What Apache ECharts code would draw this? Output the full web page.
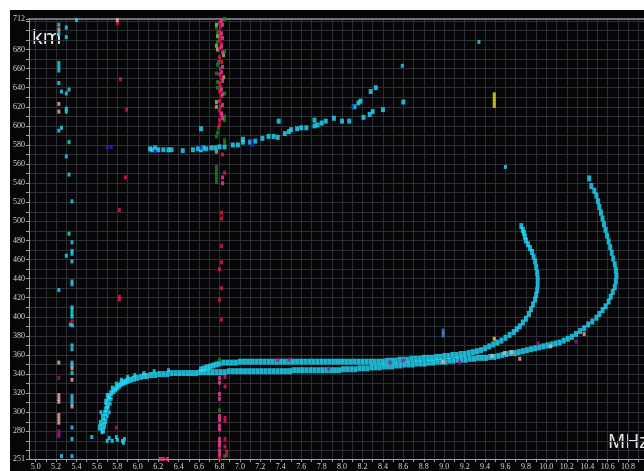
<!DOCTYPE html>
<html>
<head>
<meta charset="utf-8">
<script src="https://cdn.jsdelivr.net/npm/echarts@6/dist/echarts.min.js"></script>
<style>
  html, body { margin: 0; padding: 0; background: #fff; }
  #chartBox { position: absolute; left: 10px; top: 10px; width: 634px; height: 461px; background: #060608; }
</style>
</head>
<body>
<div id="chartBox"></div>
<script>
// axis labels
const xLabels = [5.0, 5.2, 5.4, 5.6, 5.8, 6.0, 6.2, 6.4, 6.6, 6.8, 7.0, 7.2, 7.4, 7.6, 7.8, 8.0, 8.2, 8.4, 8.6, 8.8, 9.0, 9.2, 9.4, 9.6, 9.8, 10.0, 10.2, 10.4, 10.6, 10.8];
const yLabels = [251, 280, 300, 320, 340, 360, 380, 400, 420, 440, 460, 480, 500, 520, 540, 560, 580, 600, 620, 640, 660, 680, 712];

// [frequency MHz, virtual height km]
const traceLower = [
  [5.63, 284], [5.64, 289], [5.66, 281], [5.67, 286], [5.68, 291], [5.66, 295], [5.68, 299], [5.69, 303], [5.70, 307],
  [5.69, 311], [5.71, 314], [5.72, 317], [5.74, 320], [5.76, 322], [5.78, 324], [5.80, 326], [5.82, 328], [5.84, 330],
  [5.86, 331], [5.88, 332], [5.90, 333], [5.93, 334], [5.96, 335], [5.99, 336], [6.03, 337], [6.06, 338], [6.09, 338],
  [6.13, 339], [6.17, 339], [6.21, 340], [6.25, 340], [6.29, 340], [6.33, 341], [6.37, 341], [6.41, 341], [6.45, 341],
  [6.49, 341], [6.53, 341], [6.57, 341], [6.61, 342], [6.65, 342], [6.69, 342], [6.73, 342], [6.77, 342], [6.81, 342],
  [6.85, 342], [6.89, 343], [6.93, 343], [6.97, 343], [7.01, 343], [7.05, 343], [7.09, 343], [7.13, 343], [7.17, 343],
  [7.21, 343], [7.25, 343], [7.29, 343], [7.33, 343], [7.37, 343], [7.41, 343], [7.45, 343], [7.49, 343], [7.53, 344],
  [7.57, 344], [7.61, 344], [7.65, 344], [7.69, 344], [7.73, 344], [7.77, 344], [7.81, 344], [7.85, 344], [7.89, 344],
  [7.93, 344], [7.97, 344], [8.01, 345], [8.05, 345], [8.09, 345], [8.13, 345], [8.17, 346], [8.21, 346], [8.25, 346],
  [8.29, 347], [8.33, 347], [8.37, 347], [8.41, 348], [8.45, 348], [8.49, 348], [8.53, 349], [8.57, 349], [8.61, 350],
  [8.65, 350], [8.69, 350], [8.73, 351], [8.77, 351], [8.81, 351], [8.85, 352], [8.89, 352], [8.93, 353], [8.97, 353],
  [9.01, 353], [9.05, 354], [9.09, 354], [9.13, 355], [9.17, 355], [9.21, 355], [9.25, 356], [9.29, 356], [9.33, 357],
  [9.37, 357], [9.41, 357], [9.45, 358], [9.49, 358], [9.53, 359], [9.57, 360], [9.61, 361], [9.65, 362], [9.69, 362],
  [9.73, 363], [9.77, 364], [9.81, 365], [9.85, 366], [9.89, 367], [9.93, 368], [9.97, 369], [10.01, 370], [10.05, 371],
  [10.09, 372], [10.13, 373], [10.17, 375], [10.21, 377], [10.25, 379], [10.29, 382], [10.33, 385], [10.37, 388],
  [10.41, 392], [10.45, 395], [10.49, 399], [10.52, 403], [10.55, 407], [10.58, 411], [10.61, 416], [10.63, 421],
  [10.65, 426], [10.67, 431], [10.68, 437], [10.685, 443], [10.68, 449], [10.67, 455], [10.655, 461], [10.64, 467],
  [10.625, 473], [10.61, 479], [10.595, 485], [10.58, 491], [10.565, 497], [10.55, 503], [10.535, 509], [10.52, 515],
  [10.505, 521], [10.49, 527], [10.47, 532], [10.44, 537], [10.42, 545]
];
const traceUpper = [
  [6.62, 345], [6.65, 346], [6.68, 347], [6.71, 348], [6.74, 349], [6.77, 350], [6.80, 351], [6.84, 352], [6.88, 352],
  [6.92, 352], [6.96, 352], [7.00, 353], [7.04, 353], [7.08, 353], [7.12, 353], [7.16, 353], [7.20, 353], [7.24, 353],
  [7.28, 353], [7.32, 353], [7.36, 353], [7.40, 353], [7.44, 353], [7.48, 353], [7.52, 353], [7.56, 353], [7.60, 353],
  [7.64, 353], [7.68, 353], [7.72, 353], [7.76, 353], [7.80, 353], [7.84, 353], [7.88, 353], [7.92, 353], [7.96, 353],
  [8.00, 353], [8.04, 353], [8.08, 353], [8.12, 353], [8.16, 353], [8.20, 353], [8.24, 353], [8.28, 353], [8.32, 353],
  [8.36, 353], [8.40, 353], [8.44, 354], [8.48, 354], [8.52, 354], [8.56, 355], [8.60, 355], [8.64, 355], [8.68, 356],
  [8.72, 356], [8.76, 356], [8.80, 357], [8.84, 357], [8.88, 357], [8.92, 358], [8.96, 358], [9.00, 359], [9.04, 359],
  [9.08, 360], [9.12, 360], [9.16, 361], [9.20, 361], [9.24, 362], [9.28, 363], [9.32, 364], [9.36, 365], [9.40, 367],
  [9.44, 369], [9.48, 371], [9.52, 373], [9.56, 375], [9.60, 378], [9.64, 381], [9.68, 384], [9.71, 387], [9.74, 390],
  [9.77, 394], [9.80, 398], [9.83, 403], [9.85, 408], [9.87, 413], [9.89, 418], [9.90, 423], [9.91, 428], [9.915, 434],
  [9.915, 440], [9.91, 446], [9.90, 452], [9.89, 458], [9.875, 463], [9.86, 468], [9.84, 472], [9.82, 476], [9.80, 480],
  [9.79, 484], [9.78, 488], [9.77, 491], [9.755, 495]
];
const traceEs = [
  [6.12, 576], [6.14, 575], [6.17, 577], [6.20, 575], [6.25, 575], [6.30, 575], [6.33, 575], [6.44, 574], [6.54, 575],
  [6.59, 576], [6.62, 575], [6.64, 577], [6.67, 576], [6.72, 577], [6.76, 577], [6.80, 578], [6.85, 578], [6.93, 580],
  [6.98, 580], [7.03, 583], [7.03, 586], [7.10, 583], [7.15, 584], [7.22, 587], [7.28, 589], [7.33, 589], [7.37, 588],
  [7.44, 592], [7.48, 594], [7.50, 596], [7.56, 597], [7.60, 598], [7.65, 598], [7.73, 600], [7.73, 606], [7.76, 601],
  [7.80, 603], [7.84, 605], [7.92, 608], [8.00, 605], [8.07, 605], [8.21, 609], [8.27, 612], [8.30, 615], [8.40, 617],
  [8.12, 620], [8.16, 624], [8.18, 626], [8.28, 636], [8.33, 640], [8.60, 625], [6.62, 597], [7.38, 605]
];
const cyanDots = [
  [5.227, 706], [5.30, 703], [5.40, 711], [5.227, 697], [5.30, 693], [5.227, 666], [5.227, 662], [5.227, 658],
  [5.227, 645], [5.253, 636], [5.30, 634], [5.327, 638], [5.30, 618], [5.30, 615], [5.253, 598], [5.227, 595],
  [5.327, 583], [5.30, 568], [5.327, 549], [5.356, 521], [5.327, 487], [5.356, 478], [5.356, 469], [5.356, 466],
  [5.30, 464], [5.356, 458], [5.356, 434], [5.356, 437], [5.227, 428], [5.356, 410], [5.356, 407], [5.356, 403],
  [5.356, 400], [5.34, 392], [5.36, 391], [5.356, 370], [5.356, 366], [5.356, 352], [5.356, 349], [5.356, 341],
  [5.356, 317], [5.356, 313], [5.356, 309], [5.356, 284], [5.356, 272], [5.253, 254], [5.356, 254], [5.55, 274],
  [5.70, 270], [5.72, 273], [5.75, 270], [5.79, 274], [5.80, 271], [5.85, 270], [5.86, 268], [5.87, 272],
  [5.64, 300], [5.70, 296], [5.72, 300], [5.71, 305], [5.73, 309], [5.70, 318], [5.74, 314], [5.65, 279],
  [5.75, 326], [5.79, 330], [5.84, 334], [5.90, 337], [5.97, 339], [6.06, 341], [6.16, 343], [6.30, 344],
  [8.59, 663], [9.34, 688], [9.60, 557]
];
const redDots = [
  [5.80, 708], [5.83, 649], [5.89, 617], [5.88, 546], [5.82, 512], [5.82, 421], [5.82, 418], [5.356, 395],
  [6.80, 708], [6.81, 704], [6.80, 699], [6.81, 694], [6.80, 690], [6.82, 686], [6.80, 681], [6.80, 672], [6.82, 667],
  [6.81, 660], [6.80, 654], [6.82, 650], [6.80, 645], [6.81, 641], [6.80, 636], [6.82, 631], [6.80, 626], [6.81, 620],
  [6.80, 616], [6.82, 611], [6.80, 606], [6.80, 601], [6.83, 570], [6.85, 551],
  [6.82, 509], [6.82, 503], [6.82, 474], [6.82, 457], [6.80, 450], [6.82, 430], [6.80, 418], [6.82, 397],
  [6.854, 337], [6.854, 327], [6.854, 294], [6.854, 291], [6.854, 272], [6.854, 264], [6.87, 259], [6.87, 255], [6.80, 252]
];
const pinkDots = [
  [6.82, 710], [6.83, 706], [6.82, 697], [6.83, 692], [6.82, 683], [6.83, 677], [6.83, 662], [6.82, 656], [6.83, 647],
  [6.82, 638], [6.83, 633], [6.83, 622], [6.82, 613], [6.83, 608],
  [6.80, 336], [6.80, 331], [6.80, 319], [6.80, 314], [6.80, 296], [6.80, 292], [6.80, 286], [6.80, 282], [6.80, 272],
  [6.80, 268], [6.80, 265], [6.80, 260], [6.80, 256], [6.83, 546], [6.83, 540],
  [6.29, 251], [6.22, 251], [6.25, 251]
];
const greenDots = [
  [6.85, 712], [6.77, 703], [6.78, 698], [6.78, 688], [6.85, 678], [6.79, 667], [6.78, 664], [6.77, 655], [6.78, 646],
  [6.78, 640], [6.85, 634], [6.85, 610], [6.85, 606], [6.79, 598], [6.78, 593], [6.77, 589], [6.85, 585], [6.85, 582],
  [6.77, 557], [6.77, 553], [6.77, 549], [6.77, 545], [6.77, 541], [6.80, 355], [6.80, 302], [6.85, 254]
];
const lightGreenDots = [
  [6.77, 706], [6.78, 694], [6.77, 684], [6.78, 680], [6.84, 674], [6.77, 625], [6.77, 620], [6.84, 651], [6.77, 573]
];
const salmonDots = [
  [5.227, 701], [5.227, 623], [5.227, 615], [5.80, 711], [5.227, 352], [5.227, 318], [5.227, 314], [5.227, 311],
  [5.227, 297], [5.227, 293], [5.227, 289], [5.356, 346], [5.356, 334], [5.356, 306],
  [8.99, 353], [9.47, 359], [9.59, 362], [9.66, 363], [9.74, 356], [10.04, 369], [10.37, 382]
];
const magentaDots = [
  [5.227, 336], [5.227, 280], [5.227, 277], [5.227, 275], [5.79, 284], [7.37, 355], [7.48, 355], [7.87, 346],
  [8.47, 352], [8.60, 354], [9.15, 352], [9.92, 372], [10.29, 374]
];
const blueDots = [[5.70, 578], [5.74, 578], [6.17, 573], [6.62, 577], [7.12, 584], [7.12, 580], [8.10, 620]];
const yellowDots = [[9.49, 621], [9.49, 625], [9.49, 629], [9.49, 633], [9.49, 377]];
const steelDots = [[8.99, 381], [8.99, 385]];

// tick positions for grid lines
const xTicks = [];
for (let i = 50; i <= 109; i++) xTicks.push(i / 10);
const yTicks = [251, 712];
for (let v = 260; v <= 710; v += 10) yTicks.push(v);

function dots(name, data, color, size) {
  return {
    name: name,
    type: 'scatter',
    data: data,
    symbol: 'rect',
    symbolSize: size,
    itemStyle: { color: color },
    silent: true,
    animation: false
  };
}

const cyan = '#22dcfc';
const myChart = echarts.init(document.getElementById('chartBox'));
const option = {
  backgroundColor: 'transparent',
  animation: false,
  grid: { left: 15, right: 0, top: 9, bottom: 12 },
  xAxis: [{
    type: 'value',
    min: 4.935,
    max: 10.956,
    axisLine: { lineStyle: { color: '#a0a2a8', width: 1 } },
    axisTick: { customValues: xTicks, length: 3, lineStyle: { color: '#a0a2a8' } },
    axisLabel: {
      customValues: xLabels,
      formatter: v => v.toFixed(1),
      color: '#d4d4d4',
      fontSize: 8,
      fontFamily: 'Liberation Sans Narrow',
      margin: 4
    },
    splitLine: { show: true, lineStyle: { color: '#2c2e35', width: 1 } }
  }, {
    type: 'value',
    position: 'top',
    min: 4.935,
    max: 10.956,
    axisLine: { show: true, lineStyle: { color: '#8c909a', width: 1.5 } },
    axisTick: { show: false },
    axisLabel: { show: false },
    splitLine: { show: false }
  }],
  yAxis: {
    type: 'value',
    min: 251,
    max: 712,
    axisLine: { show: true, lineStyle: { color: '#a0a2a8', width: 1 } },
    axisTick: { show: true, customValues: yTicks, length: 3, lineStyle: { color: '#a0a2a8' } },
    axisLabel: {
      customValues: yLabels,
      color: '#d4d4d4',
      fontSize: 8,
      fontFamily: 'Liberation Sans Narrow',
      margin: 4
    },
    splitLine: { show: true, lineStyle: { color: '#2c2e35', width: 1 } }
  },
  graphic: [
    { type: 'text', left: 22, top: 18, style: { text: 'km', fill: '#f2f2f2', font: '20px "Noto Sans"' } },
    { type: 'text', left: 598, top: 423, style: { text: 'MHz', fill: '#e6e6e6', font: '19px "Noto Sans"' } }
  ],
  series: [
    dots('Es', traceEs, cyan, [4, 5]),
    dots('lower', traceLower, cyan, [4, 6]),
    dots('upper', traceUpper, cyan, [4, 6]),
    dots('cyan', cyanDots, cyan, [3, 4]),
    dots('green', greenDots, '#178a1a', [3, 4]),
    dots('lightgreen', lightGreenDots, '#9ec46c', [3, 4]),
    dots('red', redDots, '#e6184e', [3, 4]),
    dots('pink', pinkDots, '#f4409c', [3, 4]),
    dots('salmon', salmonDots, '#f6aca4', [3, 4]),
    dots('magenta', magentaDots, '#a8108c', [3, 4]),
    dots('blue', blueDots, '#2424c8', [3, 4]),
    dots('yellow', yellowDots, '#e8e818', [3, 4]),
    dots('steel', steelDots, '#3c8cdc', [3, 5])
  ]
};
myChart.setOption(option);
</script>
</body>
</html>
